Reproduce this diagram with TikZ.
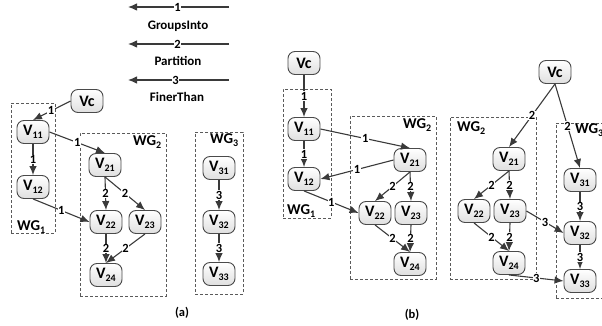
\documentclass[tikz,border=0pt]{standalone}
\usepackage{fontspec}
\setmainfont{Carlito}[BoldFont={Carlito Bold}]
\usetikzlibrary{arrows.meta}
\definecolor{edgec}{HTML}{3A3A3A}
\definecolor{boxc}{HTML}{4A4A4A}
\definecolor{grpc}{HTML}{5A5A5A}
\newcommand{\subx}[1]{\raisebox{-2.6pt}{\fontsize{10}{10}\selectfont #1}}
\begin{document}
\begin{tikzpicture}[x=1pt,y=-1pt,
  vnode/.style={draw=boxc, line width=0.9pt, rounded corners=7pt, top color=white, bottom color=gray!25,
    minimum width=32pt, minimum height=23pt, inner sep=0pt, font=\fontsize{16}{16}\selectfont\bfseries, text=black},
  grp/.style={draw=grpc, dash pattern=on 3pt off 2pt, line width=0.9pt, inner sep=0pt},
  wgl/.style={font=\fontsize{15}{15}\selectfont\bfseries, inner sep=0pt, text=black},
  arr/.style={draw=edgec, line width=1.1pt, -{Latex[length=9pt,width=7.5pt]}},
  el/.style={fill=white, inner sep=0.6pt, font=\fontsize{12.5}{12.5}\selectfont\bfseries, text=black},
  lg/.style={font=\fontsize{13}{13}\selectfont\bfseries, inner sep=0pt, text=black}]
\useasboundingbox (0,0) rectangle (602,326);
\clip (0,0) rectangle (602,326);
% legend
\coordinate (l1r) at (229,7);  \coordinate (l1l) at (128,7);
\coordinate (l2r) at (229,44); \coordinate (l2l) at (128,44);
\coordinate (l3r) at (229,80); \coordinate (l3l) at (128,80);
\draw[arr] (l1r) -- node[el,pos=.51]{1} (l1l);
\draw[arr] (l2r) -- node[el,pos=.51]{2} (l2l);
\draw[arr] (l3r) -- node[el,pos=.53]{3} (l3l);
\node[lg] (lgt1) at (178,26) {GroupsInto};
\node[lg] (lgt2) at (178,61) {Partition};
\node[lg] (lgt3) at (177,97) {FinerThan};
% ---------- panel (a)
\node[grp, minimum width=44pt, minimum height=130pt] (wg1a) at (33,168) {};
\node[grp, minimum width=86pt, minimum height=163pt] (wg2a) at (123,214.5) {};
\node[grp, minimum width=48pt, minimum height=162pt] (wg3a) at (219,213) {};
\node[wgl, anchor=west] (wg1al) at (17,227) {WG\subx{1}};
\node[wgl, anchor=west] (wg2al) at (133,142) {WG\subx{2}};
\node[wgl, anchor=west] (wg3al) at (210,140) {WG\subx{3}};
\node[vnode] (Vca) at (87,101) {Vc};
\node[vnode] (V11a) at (33,132) {V\subx{11}};
\node[vnode] (V12a) at (33,187) {V\subx{12}};
\node[vnode] (V21a) at (105,165) {V\subx{21}};
\node[vnode] (V22a) at (106,222) {V\subx{22}};
\node[vnode] (V23a) at (145,222) {V\subx{23}};
\node[vnode] (V24a) at (106,275) {V\subx{24}};
\node[vnode] (V31a) at (219,168) {V\subx{31}};
\node[vnode] (V32a) at (219,222) {V\subx{32}};
\node[vnode] (V33a) at (219,274) {V\subx{33}};
\draw[arr] (Vca.west) -- node[el,pos=.52]{1} (V11a.north);
\draw[arr] (V11a.south) -- node[el]{1} (V12a.north);
\draw[arr] (V11a.east) -- node[el]{1} (V21a.north);
\draw[arr] (V12a.south) -- node[el]{1} (V22a.west);
\draw[arr] (V21a.south) -- node[el]{2} (V22a.north);
\draw[arr] (V21a.south) -- node[el]{2} (V23a.north);
\draw[arr] (V22a.south) -- node[el]{2} (V24a.north);
\draw[arr] (V23a.south) -- node[el]{2} (V24a.north);
\draw[arr] (V31a.south) -- node[el]{3} (V32a.north);
\draw[arr] (V32a.south) -- node[el]{3} (V33a.north);
\node[el] (capa) at (182,313) {(a)};
% ---------- panel (b)
\node[grp, minimum width=48pt, minimum height=129pt] (wg1b) at (307,153.5) {};
\node[grp, minimum width=86pt, minimum height=163pt] (wg2b) at (393,197.5) {};
\node[wgl, anchor=west] (wg1bl) at (287,211) {WG\subx{1}};
\node[wgl, anchor=west] (wg2bl) at (403,125) {WG\subx{2}};
\node[vnode] (Vcb) at (304,63) {Vc};
\node[vnode] (V11b) at (304,129) {V\subx{11}};
\node[vnode] (V12b) at (304,179) {V\subx{12}};
\node[vnode] (V21b) at (410,160) {V\subx{21}};
\node[vnode] (V22b) at (375,213) {V\subx{22}};
\node[vnode] (V23b) at (411,213) {V\subx{23}};
\node[vnode] (V24b) at (410,264) {V\subx{24}};
\draw[arr] (Vcb.south) -- node[el]{1} (V11b.north);
\draw[arr] (V11b.south) -- node[el]{1} (V12b.north);
\draw[arr] (V11b.east) -- node[el]{1} (V21b.north);
\draw[arr] (V21b.west) -- node[el]{1} (V12b.east);
\draw[arr] (V12b.south) -- node[el]{1} (V22b.west);
\draw[arr] (V21b.south) -- node[el]{2} (V22b.north);
\draw[arr] (V21b.south) -- node[el]{2} (V23b.north);
\draw[arr] (V22b.south) -- node[el]{2} (V24b.north);
\draw[arr] (V23b.south) -- node[el]{2} (V24b.north);
\node[el] (capb) at (412,315) {(b)};
% ---------- panel (c)
\node[grp, minimum width=86pt, minimum height=162pt] (wg2c) at (493,198) {};
\node[grp, minimum width=54pt, minimum height=175pt] (wg3c) at (583,210.5) {};
\node[wgl, anchor=west] (wg2cl) at (457,128) {WG\subx{2}};
\node[wgl, anchor=west] (wg3cl) at (575,130) {WG\subx{3}};
\node[vnode] (Vcc) at (555,72) {Vc};
\node[vnode] (V21c) at (509,159) {V\subx{21}};
\node[vnode] (V22c) at (474,211) {V\subx{22}};
\node[vnode] (V23c) at (510,211) {V\subx{23}};
\node[vnode] (V24c) at (509,263) {V\subx{24}};
\node[vnode] (V31c) at (580,180) {V\subx{31}};
\node[vnode] (V32c) at (580,233) {V\subx{32}};
\node[vnode] (V33c) at (580,281) {V\subx{33}};
\draw[arr] (Vcc.south) -- node[el]{2} (V21c.north);
\draw[arr] (Vcc.south) -- node[el]{2} (V31c.north);
\draw[arr] (V21c.south) -- node[el]{2} (V22c.north);
\draw[arr] (V21c.south) -- node[el]{2} (V23c.north);
\draw[arr] (V22c.south) -- node[el]{2} (V24c.north);
\draw[arr] (V23c.south) -- node[el]{2} (V24c.north);
\draw[arr] (V23c.east) -- node[el]{3} (V32c.west);
\draw[arr] (V31c.south) -- node[el]{3} (V32c.north);
\draw[arr] (V32c.south) -- node[el]{3} (V33c.north);
\draw[arr] (V24c.south) -- node[el]{3} (V33c.west);
\end{tikzpicture}
\end{document}
